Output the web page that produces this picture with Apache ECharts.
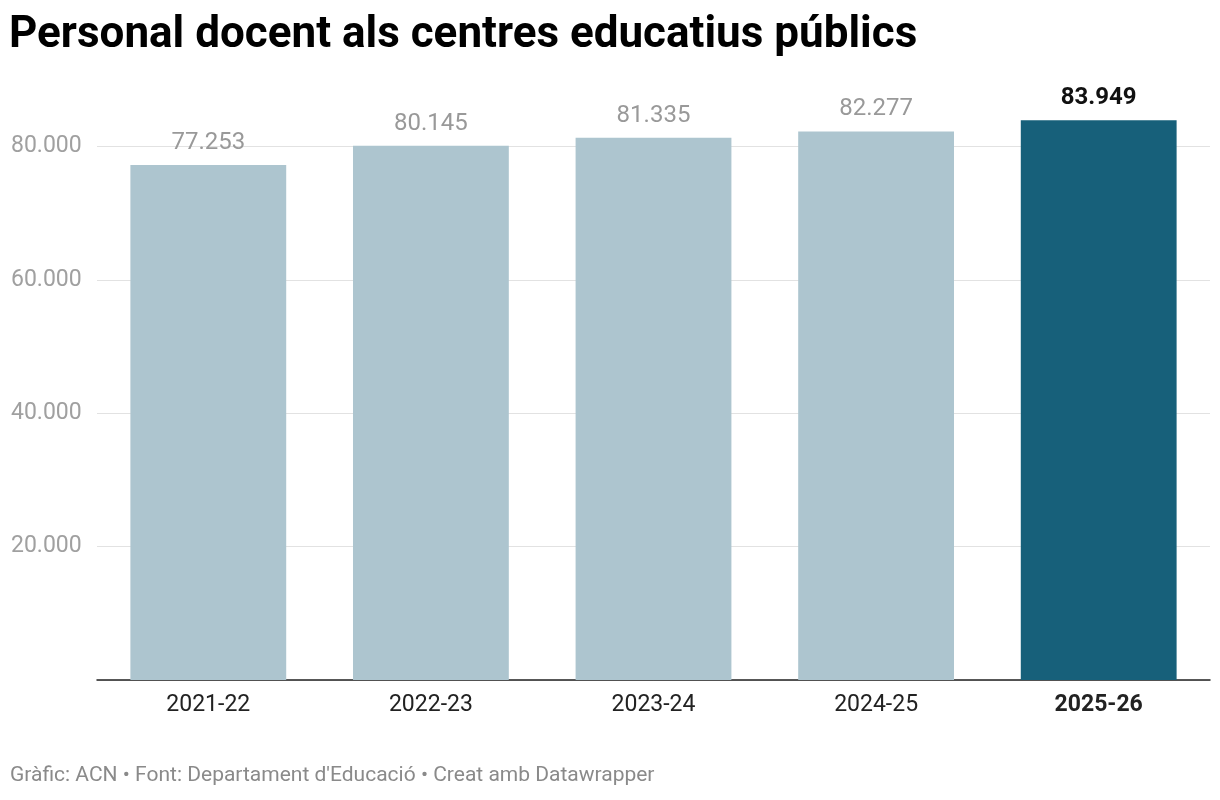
<!DOCTYPE html>
<html><head><meta charset="utf-8">
<script src="https://cdn.jsdelivr.net/npm/echarts@6/dist/echarts.min.js"></script>
<style>html,body{margin:0;background:#fff}#c{width:1220px;height:800px}</style>
</head><body><div id="c"></div>
<script>
const categories = ['2021-22','2022-23','2023-24','2024-25','2025-26'];
const values = [77253,80145,81335,82277,83949];
const highlightIndex = 4;
const fmt = v => String(v).replace(/\B(?=(\d{3})+(?!\d))/g,'.');
const chart = echarts.init(document.getElementById('c'));
chart.setOption({
  animation:false,
  textStyle:{fontFamily:'Roboto'},
  title:[
    {text:'Personal docent als centres educatius públics',left:9,top:14,padding:0,textStyle:{fontSize:44,fontWeight:'bold',color:'#000',fontFamily:'Roboto'}},
    {text:'Gràfic: ACN • Font: Departament d\'Educació • Creat amb Datawrapper',left:10,top:765,padding:0,textStyle:{fontSize:21,fontWeight:'normal',color:'#8a8a8a',fontFamily:'Roboto'}}
  ],
  grid:{left:97,right:10,top:80,bottom:120,containLabel:false},
  xAxis:{type:'category',data:categories,
    axisLine:{lineStyle:{color:'#222',width:1.5}},axisTick:{show:false},
    axisLabel:{fontSize:23,color:'#222',margin:14,
      formatter:(v,i)=>i===highlightIndex?'{b|'+v+'}':v,rich:{b:{fontSize:23,fontWeight:'bold',color:'#222'}}}},
  yAxis:{type:'value',min:0,max:90000,interval:10000,
    axisLabel:{fontSize:23,color:'#a0a0a0',align:'left',margin:86,
      formatter:v=>(v%20000===0&&v>0&&v<90000)?fmt(v):''},
    splitLine:{lineStyle:{color:['#e2e2e2','rgba(0,0,0,0)']}}},
  series:[{type:'bar',barWidth:'70%',
    data:values.map((v,i)=>({value:v,
      itemStyle:{color:i===highlightIndex?'#17607a':'#adc5cf'},
      label:{show:true,position:'top',distance:10,fontSize:24,
        color:i===highlightIndex?'#111':'#999',fontWeight:i===highlightIndex?'bold':'normal',
        formatter:p=>fmt(p.value)}}))}]
});
</script></body></html>
